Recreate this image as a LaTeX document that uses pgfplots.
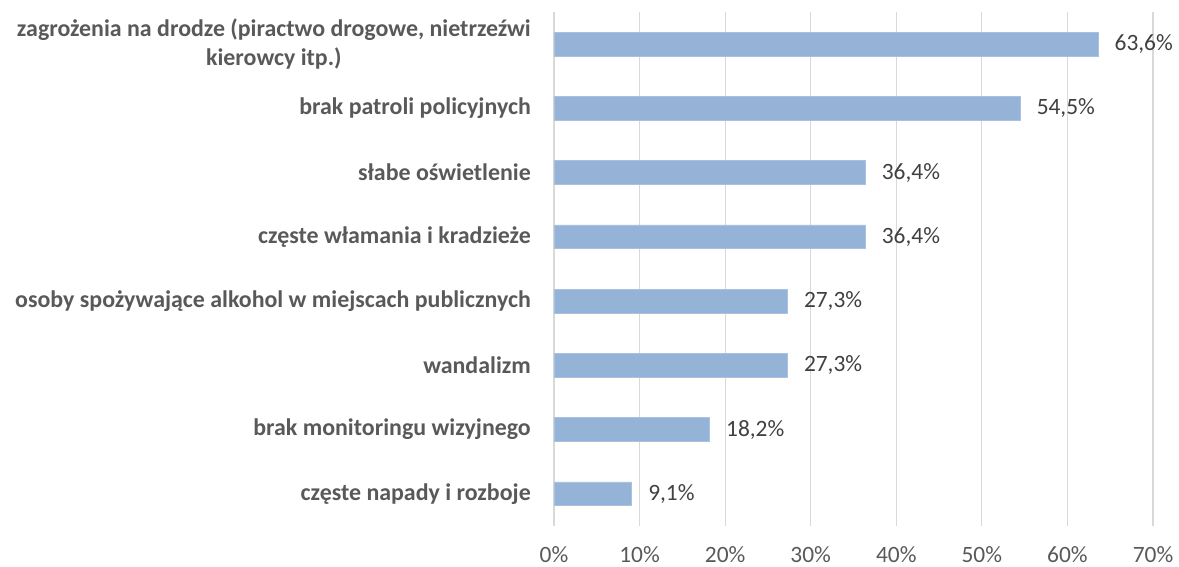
\documentclass[border=0pt]{standalone}
\usepackage{pgfplots}
\pgfplotsset{compat=1.18}
\usepackage{fontspec}
\setmainfont{Carlito}
\definecolor{barblue}{HTML}{95B3D7}
\definecolor{gridgray}{HTML}{D9D9D9}
\definecolor{labgray}{HTML}{595959}
\definecolor{valgray}{HTML}{404040}
\begin{document}
\begin{tikzpicture}
\begin{axis}[
  scale only axis,
  width=599bp, height=514bp,
  xbar,
  xmin=0, xmax=70,
  ymin=-0.5, ymax=7.5,
  bar width=0.37,
  axis line style={draw=none},
  xmajorgrids,
  grid style={gridgray, line width=1.2bp},
  xtick={0,10,...,70},
  xticklabel={\pgfmathprintnumber{\tick}\%},
  xticklabel style={font=\fontsize{23.5}{26}\selectfont, text=labgray, inner sep=0pt, anchor=north, yshift=-20bp},
  /pgf/number format/assume math mode=true,
  major tick length=0pt,
  ytick={0,...,7},
  yticklabels={częste napady i rozboje, brak monitoringu wizyjnego, wandalizm, osoby spożywające alkohol w miejscach publicznych, częste włamania i kradzieże, słabe oświetlenie, brak patroli policyjnych, {zagrożenia na drodze (piractwo drogowe, nietrzeźwi\\kierowcy itp.)}},
  yticklabel style={font=\bfseries\fontsize{24}{28.5}\selectfont, text=labgray, align=center, inner sep=0pt, anchor=east, xshift=-23bp},
  nodes near coords={\pgfmathprintnumber[fixed, fixed zerofill, precision=1, use comma]{\pgfplotspointmeta}\%},
  nodes near coords style={font=\fontsize{23.5}{26}\selectfont, text=valgray, anchor=west, inner sep=0pt, xshift=16bp},
  point meta=x,
  clip=false,
]
\addplot[fill=barblue, draw=barblue!80!white, line width=0.8bp] coordinates {
(9.1,0) (18.2,1) (27.3,2) (27.3,3) (36.4,4) (36.4,5) (54.5,6) (63.6,7)};
\end{axis}
\pgfresetboundingbox
\useasboundingbox (-554bp,-41bp) rectangle (625bp,526bp);
\end{tikzpicture}
\end{document}
